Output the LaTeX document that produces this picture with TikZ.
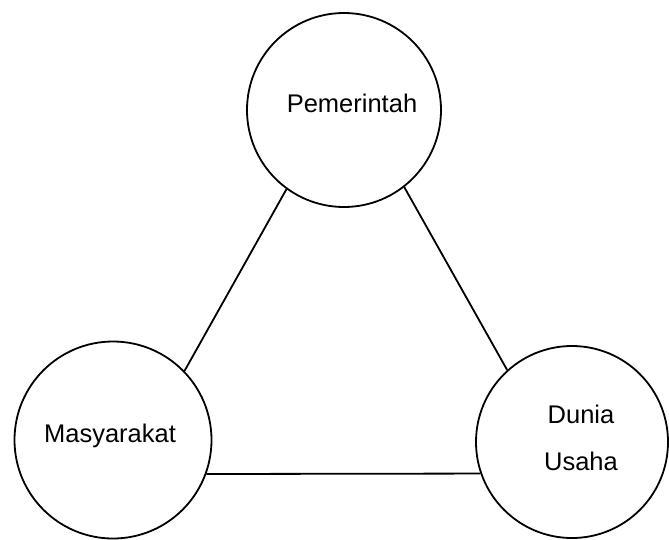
\documentclass[tikz,border=0pt]{standalone}
\usepackage{fontspec}
\setmainfont{Liberation Sans}
\begin{document}
\begin{tikzpicture}[x=1pt,y=-1pt,
  actor/.style={circle, draw, line width=1.8pt, minimum size=194pt, inner sep=0pt},
  lbl/.style={font=\fontsize{25.5}{30}\selectfont, anchor=base, inner sep=0pt},
  link/.style={line width=1.8pt}]
\useasboundingbox (0,0) rectangle (669,539);
% the three actors
\node[actor] (pem) at (344,110) {};
\node[actor, minimum size=197pt] (mas) at (113,440) {};
\node[actor, minimum size=192pt] (dun) at (572,442) {};
% their names
\node[lbl] (tpem) at (352,112) {Pemerintah};
\node[lbl] (tmas) at (110,442) {Masyarakat};
\node[lbl] (tdun1) at (581,423) {Dunia};
\node[lbl] (tdun2) at (581,470) {Usaha};
% links between the actors
\draw[link] (pem.234) -- (mas.44);
\draw[link] (pem.308.6) -- (dun.132);
\draw[link] (mas.-20) -- (dun.-161);
\end{tikzpicture}
\end{document}
